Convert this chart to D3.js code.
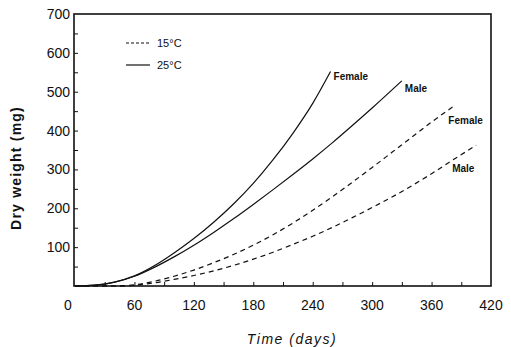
<!DOCTYPE html>
<html>
<head>
<meta charset="utf-8">
<script src="https://cdn.jsdelivr.net/npm/d3@7"></script>
<style>
  body { margin: 0; background: #fff; }
  svg { display: block; font-family: "Liberation Sans", Arial, sans-serif; }
</style>
</head>
<body>
<svg id="chart" width="511" height="347"></svg>
<script>
"use strict";

// Days since hatching / dry weight (mg) for each curve
const female25Days = [0, 20, 40, 60, 80, 100, 120, 140, 160, 180, 200, 220, 240, 258];
const female25Weight = [0, 2, 10, 26, 52, 85, 122, 164, 211, 264, 325, 393, 470, 552];

const male25Days = [0, 20, 40, 60, 80, 100, 120, 140, 160, 180, 200, 220, 240, 260, 280, 300, 330];
const male25Weight = [0, 2, 10, 25, 48, 75, 105, 138, 173, 210, 248, 287, 327, 369, 413, 458, 528];

const female15Days = [0, 40, 60, 80, 100, 120, 140, 160, 180, 200, 220, 240, 260, 280, 300, 320, 340, 360, 382];
const female15Weight = [0, 0, 3, 12, 25, 41, 60, 81, 105, 132, 162, 195, 230, 267, 305, 344, 383, 422, 462];

const male15Days = [0, 40, 60, 80, 100, 120, 140, 160, 180, 200, 220, 240, 260, 280, 300, 320, 340, 360, 380, 405];
const male15Weight = [0, 0, 2, 8, 17, 27, 39, 53, 69, 87, 107, 128, 151, 176, 202, 229, 258, 289, 322, 362];

// Tick labels
const xTickValues = [0, 60, 120, 180, 240, 300, 360, 420];
const yTickValues = [100, 200, 300, 400, 500, 600, 700];

const curves = [
    {days: female25Days, weight: female25Weight, dashed: false, label: "Female", dx: 3, dy: 8},
    {days: male25Days, weight: male25Weight, dashed: false, label: "Male", dx: 3, dy: 11},
    {days: female15Days, weight: female15Weight, dashed: true, label: "Female", dx: -5, dy: 18},
    {days: male15Days, weight: male15Weight, dashed: true, label: "Male", dx: -24, dy: 27}
];

const margin = {top: 14, right: 20, bottom: 61, left: 74},
    width = 511 - margin.left - margin.right,
    height = 347 - margin.top - margin.bottom;

const svg = d3.select("#chart");
const plot = svg.append("g")
    .attr("transform", `translate(${margin.left},${margin.top})`);

const x = d3.scaleLinear().domain([0, 420]).range([1, width]);
const y = d3.scaleLinear().domain([0, 700]).range([height, 0]);

// Inward minor ticks
const xAxis = plot.append("g")
    .attr("transform", `translate(0,${height})`)
    .call(d3.axisBottom(x).tickValues(d3.range(30, 420, 30)).tickSize(-4).tickFormat(""));
const yAxis = plot.append("g")
    .call(d3.axisLeft(y).tickValues(d3.range(50, 700, 50)).tickSize(-4).tickFormat(""));
[xAxis, yAxis].forEach(a => {
    a.select(".domain").remove();
    a.selectAll("line").attr("stroke", "#111").attr("stroke-width", 1);
});

// Tick labels
plot.append("g").selectAll("text")
    .data(xTickValues)
    .join("text")
    .attr("x", d => x(d) - (d === 0 ? 7 : 0))
    .attr("y", height + 24)
    .attr("text-anchor", "middle")
    .attr("font-size", 14)
    .attr("fill", "#111")
    .text(d => d);

plot.append("g").selectAll("text")
    .data(yTickValues)
    .join("text")
    .attr("x", -4)
    .attr("y", d => y(d) + 5)
    .attr("text-anchor", "end")
    .attr("font-size", 14)
    .attr("fill", "#111")
    .text(d => d);

// Frame
plot.append("rect")
    .attr("x", 0).attr("y", 0)
    .attr("width", width).attr("height", height)
    .attr("fill", "none")
    .attr("stroke", "#111")
    .attr("stroke-width", 1.6);

const line = d3.line()
    .x(d => x(d[0]))
    .y(d => y(d[1]))
    .curve(d3.curveMonotoneX);

curves.forEach(c => {
    const pts = d3.zip(c.days, c.weight);
    plot.append("path")
        .datum(pts)
        .attr("d", line)
        .attr("fill", "none")
        .attr("stroke", "#111")
        .attr("stroke-width", 1.2)
        .attr("stroke-dasharray", c.dashed ? "5,4" : null);
    const last = pts[pts.length - 1];
    plot.append("text")
        .attr("x", x(last[0]) + c.dx)
        .attr("y", y(last[1]) + c.dy)
        .attr("font-size", 10)
        .attr("font-weight", "bold")
        .attr("fill", "#111")
        .text(c.label);
});

// Legend
const legend = plot.append("g").attr("transform", "translate(52,29)");
[{label: "15\u00b0C", dashed: true}, {label: "25\u00b0C", dashed: false}].forEach((d, i) => {
    legend.append("line")
        .attr("x1", 0).attr("x2", 24)
        .attr("y1", i * 22).attr("y2", i * 22)
        .attr("stroke", "#111")
        .attr("stroke-width", 1.2)
        .attr("stroke-dasharray", d.dashed ? "3,2" : null);
    legend.append("text")
        .attr("x", 31)
        .attr("y", i * 22 + 4)
        .attr("font-size", 11)
        .attr("fill", "#111")
        .text(d.label);
});

// Axis titles
svg.append("text")
    .attr("x", 292)
    .attr("y", 344)
    .attr("text-anchor", "middle")
    .attr("font-size", 14)
    .attr("font-style", "italic")
    .attr("letter-spacing", 1.5)
    .attr("fill", "#111")
    .text("Time (days)");

svg.append("text")
    .attr("transform", "translate(21,168) rotate(-90)")
    .attr("text-anchor", "middle")
    .attr("font-size", 14)
    .attr("font-weight", "bold")
    .attr("letter-spacing", 1.2)
    .attr("fill", "#111")
    .text("Dry weight (mg)");
</script>
</body>
</html>
